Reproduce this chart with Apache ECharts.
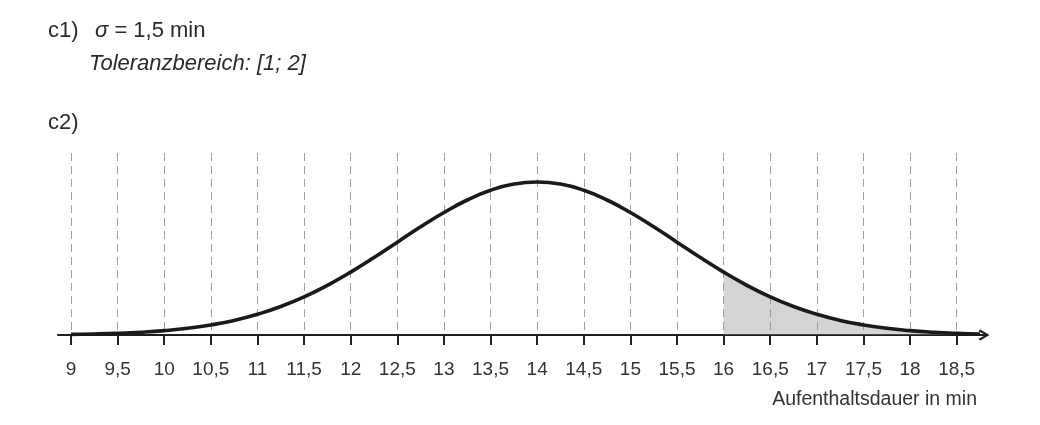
<!DOCTYPE html>
<html>
<head>
<meta charset="utf-8">
<script src="https://cdn.jsdelivr.net/npm/echarts@6/dist/echarts.min.js"></script>
<style>
html,body{margin:0;padding:0;background:#fff;}
#c{width:1040px;height:425px;}
</style>
</head>
<body>
<div id="c"></div>
<script>
// Aufenthaltsdauer in min (x) and curve height (y, arbitrary units)
var xValues = [9, 9.25, 9.5, 9.75, 10, 10.25, 10.5, 10.75, 11, 11.25, 11.5, 11.75, 12, 12.25, 12.5, 12.75, 13, 13.25, 13.5, 13.75, 14, 14.25, 14.5, 14.75, 15, 15.25, 15.5, 15.75, 16, 16.25, 16.5, 16.75, 17, 17.25, 17.5, 17.75, 18, 18.25, 18.5, 18.75];
var yValues = [0.6, 1.0, 1.7, 2.8, 4.4, 6.7, 10.1, 14.6, 20.7, 28.5, 38.1, 49.7, 62.9, 77.4, 92.8, 108.2, 122.5, 135, 144.7, 150.9, 153, 150.9, 144.7, 135, 122.5, 108.2, 92.8, 77.4, 62.9, 49.7, 38.1, 28.5, 20.7, 14.6, 10.1, 6.7, 4.4, 2.8, 1.7, 1.0];
var shadeFrom = 16;
var tickStart = 9, tickEnd = 18.5, tickStep = 0.5;
var axisName = 'Aufenthaltsdauer in min';
var line1Label = 'c1)';
var sigmaText = ' = 1,5 min';
var toleranceText = 'Toleranzbereich: [1; 2]';
var line2Label = 'c2)';

var curveData = xValues.map(function (x, i) { return [x, yValues[i]]; });
var shadeData = curveData.filter(function (d) { return d[0] >= shadeFrom; });

var FONT = '"Liberation Sans", Arial, Helvetica, sans-serif';
var chart = echarts.init(document.getElementById('c'), null, { renderer: 'canvas' });
var chevron = 'path://M5,0 L10,8.4 L8.5,10 L5,3.4 L1.5,10 L0,8.4 Z';

chart.setOption({
  animation: false,
  backgroundColor: '#ffffff',
  grid: [
    { left: 71, right: 83.3, top: 153, bottom: 90 },
    { left: 58, right: 53, top: 153, bottom: 90 }
  ],
  xAxis: [
    {
      gridIndex: 0, type: 'value', min: tickStart, max: tickEnd, interval: tickStep,
      axisLine: { show: false },
      axisTick: { show: true, length: 10, lineStyle: { color: '#222', width: 2 } },
      axisLabel: {
        show: true, margin: 25, fontSize: 19, color: '#333', fontFamily: FONT,
        showMinLabel: true, showMaxLabel: true,
        formatter: function (v) { return String(v).replace('.', ','); }
      },
      splitLine: { show: true, lineStyle: { color: '#a0a0a0', width: 1, type: [8, 5] } }
    },
    {
      gridIndex: 1, type: 'value', min: 8.86, max: 18.825,
      axisLine: { show: true, symbol: ['none', chevron], symbolSize: [14, 11], symbolOffset: [0, -3],
        lineStyle: { color: '#1e1e1e', width: 2 } },
      axisTick: { show: false }, axisLabel: { show: false }, splitLine: { show: false }
    }
  ],
  yAxis: [
    { gridIndex: 0, type: 'value', min: 0, max: 182, show: false, splitLine: { show: false } },
    { gridIndex: 1, type: 'value', min: 0, max: 182, show: false, splitLine: { show: false } }
  ],
  series: [
    {
      type: 'line', xAxisIndex: 1, yAxisIndex: 1, data: shadeData, smooth: true,
      symbol: 'none', lineStyle: { width: 0 },
      areaStyle: { color: 'rgba(140,142,146,0.38)', opacity: 1 }, z: 2
    },
    {
      type: 'line', xAxisIndex: 1, yAxisIndex: 1, data: curveData, smooth: true,
      symbol: 'none', lineStyle: { color: '#1a1a1a', width: 3.6 }, z: 3
    }
  ],
  graphic: [
    { type: 'text', left: 48, top: 19.5, style: { text: line1Label, font: '22px ' + FONT, fill: '#2a2a2a' } },
    { type: 'text', left: 95, top: 19.5, style: {
        text: '{i|σ}' + sigmaText,
        font: '22px ' + FONT, fill: '#2a2a2a',
        rich: { i: { fontStyle: 'italic', fontSize: 22, fontFamily: FONT, fill: '#2a2a2a' } }
      } },
    { type: 'text', left: 89, top: 52.5, style: { text: toleranceText, font: 'italic 22px ' + FONT, fill: '#2a2a2a' } },
    { type: 'text', left: 48, top: 112, style: { text: line2Label, font: '22px ' + FONT, fill: '#2a2a2a' } },
    { type: 'text', right: 63, top: 390, style: { text: axisName, font: '19.5px ' + FONT, fill: '#333' } }
  ]
});
</script>
</body>
</html>
